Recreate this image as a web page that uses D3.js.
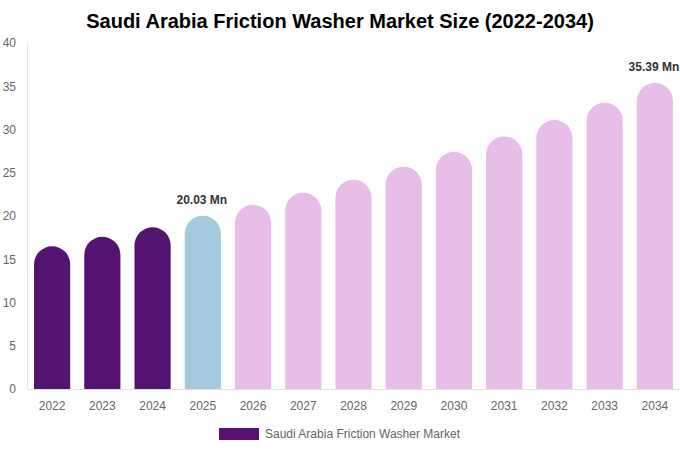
<!DOCTYPE html>
<html lang="en">
<head>
  <meta charset="UTF-8">
  <title>Saudi Arabia Friction Washer Market Size (2022-2034)</title>
  <style>
    body { margin: 0; font-family: "Liberation Sans", Arial, sans-serif; background: #fff; }
    .tick text { fill: #666; font-size: 12px; }
  </style>
</head>
<body>
  <svg width="680" height="450"></svg>
  <script src="https://d3js.org/d3.v7.min.js"></script>
  <script>
    const years = ["2022", "2023", "2024", "2025", "2026", "2027", "2028", "2029", "2030", "2031", "2032", "2033", "2034"];
    const values = [16.5, 17.6, 18.7, 20.03, 21.3, 22.7, 24.2, 25.7, 27.4, 29.2, 31.1, 33.1, 35.39];
    const yTicks = [0, 5, 10, 15, 20, 25, 30, 35, 40];
    const labelled = { "2025": "20.03 Mn", "2034": "35.39 Mn" };
    const seriesName = "Saudi Arabia Friction Washer Market";

    const width = 680, height = 450;
    const margin = { top: 43, right: 0, bottom: 61, left: 27 };

    const colorFor = y => +y < 2025 ? "#541370" : (y === "2025" ? "#a4cadf" : "#e8bde8");

    const svg = d3.select("svg");

    const x = d3.scaleBand()
      .domain(years)
      .range([margin.left, width - margin.right])
      .paddingInner(0.28)
      .paddingOuter(0.14);

    const y = d3.scaleLinear()
      .domain([0, 40])
      .range([height - margin.bottom, margin.top]);

    svg.append("text")
      .attr("x", width / 2)
      .attr("y", 28)
      .attr("text-anchor", "middle")
      .attr("font-size", "20px")
      .attr("font-weight", "bold")
      .attr("fill", "#000")
      .text("Saudi Arabia Friction Washer Market Size (2022-2034)");

    // axes
    const yAxis = svg.append("g")
      .attr("transform", `translate(${margin.left},0)`)
      .call(d3.axisLeft(y).tickValues(yTicks).tickSize(0).tickPadding(11));
    yAxis.select(".domain").attr("stroke", "#e6e6e6");

    const xAxis = svg.append("g")
      .attr("transform", `translate(0,${y(0)})`)
      .call(d3.axisBottom(x).tickSize(0).tickPadding(12));
    xAxis.select(".domain").attr("stroke", "#e0e0e0");

    // bars with rounded tops
    const bw = x.bandwidth();
    const r = bw / 2;
    function barPath(d, i) {
      const x0 = x(years[i]), x1 = x0 + bw;
      const yb = y(0), yt = y(d);
      return `M${x0},${yb}L${x0},${yt + r}A${r},${r} 0 0 1 ${x1},${yt + r}L${x1},${yb}Z`;
    }

    svg.append("g")
      .selectAll("path")
      .data(values)
      .join("path")
      .attr("d", barPath)
      .attr("fill", (d, i) => colorFor(years[i]));

    svg.append("g")
      .selectAll("text")
      .data(years.filter(yr => labelled[yr]))
      .join("text")
      .attr("x", yr => x(yr) + bw / 2 - 1)
      .attr("y", yr => y(values[years.indexOf(yr)]) - 12)
      .attr("text-anchor", "middle")
      .attr("font-size", "12px")
      .attr("font-weight", "bold")
      .attr("fill", "#333")
      .text(yr => labelled[yr]);

    // legend
    const legend = svg.append("g").attr("transform", "translate(219,428)");
    legend.append("rect")
      .attr("width", 40)
      .attr("height", 12)
      .attr("fill", "#541370");
    legend.append("text")
      .attr("x", 46)
      .attr("y", 10)
      .attr("font-size", "12px")
      .attr("fill", "#666")
      .text(seriesName);
  </script>
</body>
</html>
